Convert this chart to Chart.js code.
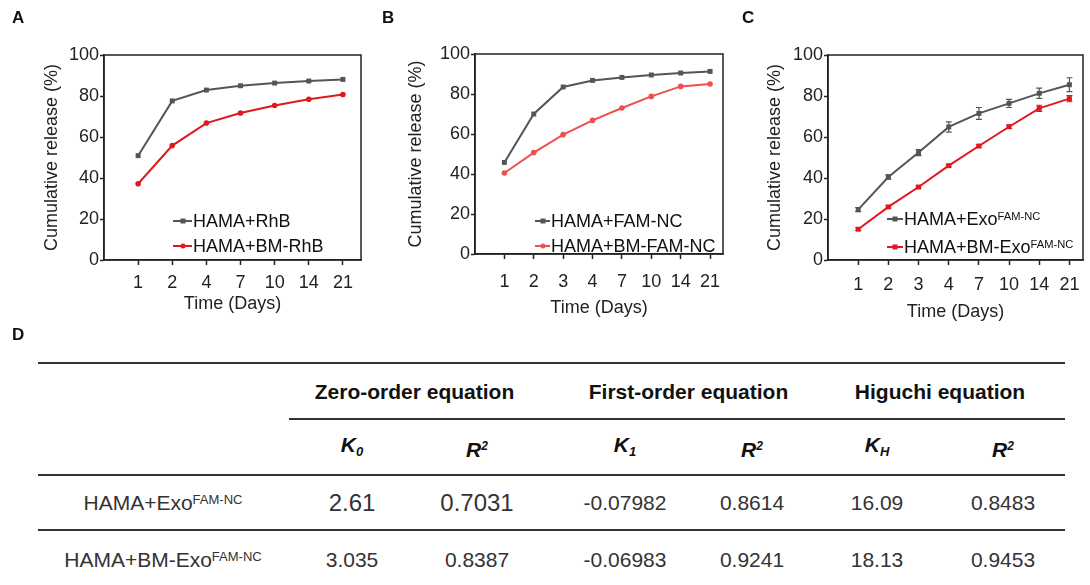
<!DOCTYPE html>
<html>
<head>
<meta charset="utf-8">
<script src="https://cdn.jsdelivr.net/npm/chart.js@4.4.0/dist/chart.umd.min.js"></script>
<style>
body { margin: 0; background: #fff; font-family: 'Liberation Sans', Arial, sans-serif; color: #222; }
#page { position: relative; width: 1090px; height: 585px; overflow: hidden; }
canvas { position: absolute; top: 0; }
.panel { position: absolute; font-weight: bold; font-size: 17px; line-height: 17px; color: #111; }
.lg { position: absolute; font-size: 18px; line-height: 20px; height: 20px; white-space: nowrap; color: #111; }
.mk { display: inline-block; position: relative; vertical-align: middle; height: 2px; margin-right: 1px; top: -1px; }
.mk i { position: absolute; left: 50%; top: 50%; width: 5px; height: 5px; transform: translate(-50%, -50%); }
sup { font-size: 0.62em; vertical-align: 0.44em; line-height: 0; }
.cell { position: absolute; transform: translate(-50%, -50%); white-space: nowrap; font-size: 21px; line-height: 24px; color: #333; }
.head { font-weight: bold; color: #111; }
.rule { position: absolute; height: 2px; background: #333; }
</style>
</head>
<body>
<div id="page"></div>
<script>
// panel A
const daysA = ['1', '2', '4', '7', '10', '14', '21']
const rhb = [50.9, 77.6, 82.9, 85.0, 86.3, 87.3, 88.1]
const bmRhb = [37.2, 55.8, 66.8, 71.7, 75.4, 78.4, 80.7]
const labelsA = [['HAMA+RhB'], ['HAMA+BM-RhB']]

// panel B
const daysB = ['1', '2', '3', '4', '7', '10', '14', '21']
const famNc = [45.8, 70.0, 83.5, 86.8, 88.3, 89.5, 90.5, 91.3]
const bmFamNc = [40.5, 50.7, 59.7, 66.8, 73.0, 78.8, 83.8, 85.0]
const labelsB = [['HAMA+FAM-NC'], ['HAMA+BM-FAM-NC']]

// panel C
const daysC = ['1', '2', '3', '4', '7', '10', '14', '21']
const exo = [24.6, 40.5, 52.4, 64.9, 71.5, 76.4, 81.3, 85.5]
const exoErr = [1.0, 1.0, 1.5, 2.5, 2.9, 2.0, 2.5, 3.4]
const bmExo = [15.0, 25.9, 35.6, 46.0, 55.6, 65.0, 74.0, 78.7]
const bmExoErr = [0.6, 0.6, 0.6, 0.6, 0.6, 0.8, 1.5, 1.5]
const labelsC = [['HAMA+Exo', 'FAM-NC'], ['HAMA+BM-Exo', 'FAM-NC']]

const yTicks = [0, 20, 40, 60, 80, 100]

// panel D (table)
const groups = ['Zero-order equation', 'First-order equation', 'Higuchi equation']
const params = [['K', '0', 'sub'], ['R', '2', 'sup'], ['K', '1', 'sub'], ['R', '2', 'sup'], ['K', 'H', 'sub'], ['R', '2', 'sup']]
const rowNames = [['HAMA+Exo', 'FAM-NC'], ['HAMA+BM-Exo', 'FAM-NC']]
const rowExo = ['2.61', '0.7031', '-0.07982', '0.8614', '16.09', '0.8483']
const rowBmExo = ['3.035', '0.8387', '-0.06983', '0.9241', '18.13', '0.9453']

const GRAY = '#555555'
const RED = '#e0181e'
const RED_B = '#ee5050'
const page = document.getElementById('page')

const boxPlugin = {
	id: 'box',
	afterDraw(c) {
		const { ctx, chartArea: a } = c
		ctx.save()
		ctx.strokeStyle = '#222'
		ctx.lineWidth = 1.5
		ctx.strokeRect(a.left, a.top, a.right - a.left, a.bottom - a.top)
		ctx.restore()
	}
}

const errorBars = {
	id: 'errorBars',
	afterDatasetsDraw(c) {
		const { ctx } = c
		const y = c.scales.y
		c.data.datasets.forEach((ds, i) => {
			if (!ds.errors) return
			const meta = c.getDatasetMeta(i)
			ctx.save()
			ctx.strokeStyle = ds.borderColor
			ctx.lineWidth = 1.2
			meta.data.forEach((pt, j) => {
				const v = ds.data[j].y
				const e = ds.errors[j]
				const top = y.getPixelForValue(v + e)
				const bot = y.getPixelForValue(v - e)
				ctx.beginPath()
				ctx.moveTo(pt.x, top)
				ctx.lineTo(pt.x, bot)
				ctx.moveTo(pt.x - 3, top)
				ctx.lineTo(pt.x + 3, top)
				ctx.moveTo(pt.x - 3, bot)
				ctx.lineTo(pt.x + 3, bot)
				ctx.stroke()
			})
			ctx.restore()
		})
	}
}

function makePanel(p) {
	const cv = document.createElement('canvas')
	cv.width = p.w
	cv.height = 330
	cv.style.left = p.left + 'px'
	page.appendChild(cv)
	const pts = (vals) => vals.map((v, i) => ({ x: i, y: v }))
	const chart = new Chart(cv, {
		type: 'line',
		data: {
			datasets: p.series.map((s) => ({
				label: s.label.join(''),
				data: pts(s.values),
				errors: s.errors,
				borderColor: s.color,
				backgroundColor: s.color,
				borderWidth: 2,
				pointStyle: s.point,
				pointRadius: s.point === 'rect' ? 3.5 : 2.8,
				pointBorderWidth: 0,
				tension: 0
			}))
		},
		options: {
			responsive: false,
			animation: false,
			events: [],
			layout: { padding: { left: 0, right: p.w - (p.plotRight - p.left), top: p.plotTop, bottom: 0 } },
			plugins: { legend: { display: false }, tooltip: { enabled: false } },
			scales: {
				x: {
					type: 'linear',
					min: -1,
					max: p.xMax,
					afterBuildTicks: (s) => { s.ticks = p.days.map((d, i) => ({ value: i })) },
					afterFit: (s) => { s.height = 330 - p.plotBottom },
					ticks: {
						callback: (v) => p.days[v],
						font: { size: 18, family: 'Liberation Sans' },
						color: '#222',
						padding: p.xPad,
						maxRotation: 0,
						autoSkip: false
					},
					grid: { drawOnChartArea: false, tickLength: 5, tickColor: '#222', tickWidth: 1.5 },
					border: { color: '#222', width: 1.5 },
					title: {
						display: true,
						text: 'Time (Days)',
						font: { size: 18, family: 'Liberation Sans' },
						color: '#222',
						padding: { top: 0, bottom: 330 - p.xTitleY - 10.8 }
					}
				},
				y: {
					min: 0,
					max: 100,
					afterBuildTicks: (s) => { s.ticks = yTicks.map((v) => ({ value: v })) },
					afterFit: (s) => { s.width = p.plotLeft - p.left },
					ticks: { font: { size: 18, family: 'Liberation Sans' }, color: '#222', padding: 1 },
					grid: { drawOnChartArea: false, tickLength: 4, tickColor: '#222', tickWidth: 1.5 },
					border: { color: '#222', width: 1.5 },
					title: {
						display: true,
						text: 'Cumulative release (%)',
						font: { size: 18, family: 'Liberation Sans' },
						color: '#222',
						padding: { top: p.yTitleX - p.left - 10.8, bottom: 0 }
					}
				}
			}
		},
		plugins: [boxPlugin, errorBars]
	})

	// legend inside the plot, built from the datasets
	chart.data.datasets.forEach((ds, i) => {
		const s = p.series[i]
		const d = document.createElement('div')
		d.className = 'lg'
		d.style.left = p.lgX + 'px'
		d.style.top = (p.lgY[i] - 10) + 'px'
		const round = s.point === 'rect' ? '0' : '50%'
		d.innerHTML = `<span class="mk" style="width:${p.mkW}px;background:${ds.borderColor}">` +
			`<i style="background:${ds.borderColor};border-radius:${round}"></i></span>` +
			s.label[0] + (s.label[1] ? `<sup>${s.label[1]}</sup>` : '')
		page.appendChild(d)
	})
	return chart
}

makePanel({
	left: 0, w: 370, plotLeft: 104, plotRight: 361, plotTop: 55, plotBottom: 260,
	xMax: 6.53, xPad: 7, xTitleY: 304, yTitleX: 52, days: daysA,
	lgX: 173, lgY: [221, 246], mkW: 19,
	series: [
		{ label: labelsA[0], values: rhb, color: GRAY, point: 'rect' },
		{ label: labelsA[1], values: bmRhb, color: RED, point: 'circle' }
	]
})

makePanel({
	left: 365, w: 370, plotLeft: 475, plotRight: 723, plotTop: 54, plotBottom: 254,
	xMax: 7.44, xPad: 12, xTitleY: 308, yTitleX: 416, days: daysB,
	lgX: 535, lgY: [221, 246], mkW: 15,
	series: [
		{ label: labelsB[0], values: famNc, color: GRAY, point: 'rect' },
		{ label: labelsB[1], values: bmFamNc, color: RED_B, point: 'circle' }
	]
})

makePanel({
	left: 735, w: 355, plotLeft: 828, plotRight: 1083, plotTop: 55, plotBottom: 260,
	xMax: 7.45, xPad: 9, xTitleY: 312, yTitleX: 775, days: daysC,
	lgX: 887, lgY: [219, 247], mkW: 16,
	series: [
		{ label: labelsC[0], values: exo, errors: exoErr, color: GRAY, point: 'rect' },
		{ label: labelsC[1], values: bmExo, errors: bmExoErr, color: RED, point: 'rect' }
	]
})

// panel letters
;[['A', 12, 9], ['B', 382, 9], ['C', 742, 9], ['D', 12, 326]].forEach(([t, x, y]) => {
	const d = document.createElement('div')
	d.className = 'panel'
	d.textContent = t
	d.style.left = x + 'px'
	d.style.top = y + 'px'
	page.appendChild(d)
})

// table
const colX = [352, 477, 625, 752, 877, 1003]
const rowY = [503, 560]
function cell(html, x, y, cls, size) {
	const d = document.createElement('div')
	d.className = 'cell' + (cls ? ' ' + cls : '')
	d.innerHTML = html
	d.style.left = x + 'px'
	d.style.top = y + 'px'
	if (size) d.style.fontSize = size + 'px'
	page.appendChild(d)
}
function rule(x1, x2, y) {
	const d = document.createElement('div')
	d.className = 'rule'
	d.style.left = x1 + 'px'
	d.style.width = (x2 - x1) + 'px'
	d.style.top = y + 'px'
	page.appendChild(d)
}
rule(38, 1065, 362)
rule(289, 1065, 418)
rule(38, 1065, 474)
rule(38, 1065, 529)

groups.forEach((g, i) => cell(g, (colX[2 * i] + colX[2 * i + 1]) / 2, 392, 'head'))
params.forEach(([m, s, kind], i) => {
	const small = kind === 'sub'
		? `<span style="font-size:13px;vertical-align:-4px">${s}</span>`
		: `<span style="font-size:12px;vertical-align:7px">${s}</span>`
	cell(`<i>${m}${small}</i>`, colX[i], 448, 'head')
})
rowNames.forEach(([m, s], r) => cell(`${m}<sup>${s}</sup>`, 163, rowY[r]))
rowExo.forEach((v, i) => cell(v, colX[i], rowY[0], '', i < 2 ? 24 : 21))
rowBmExo.forEach((v, i) => cell(v, colX[i], rowY[1]))
</script>
</body>
</html>
